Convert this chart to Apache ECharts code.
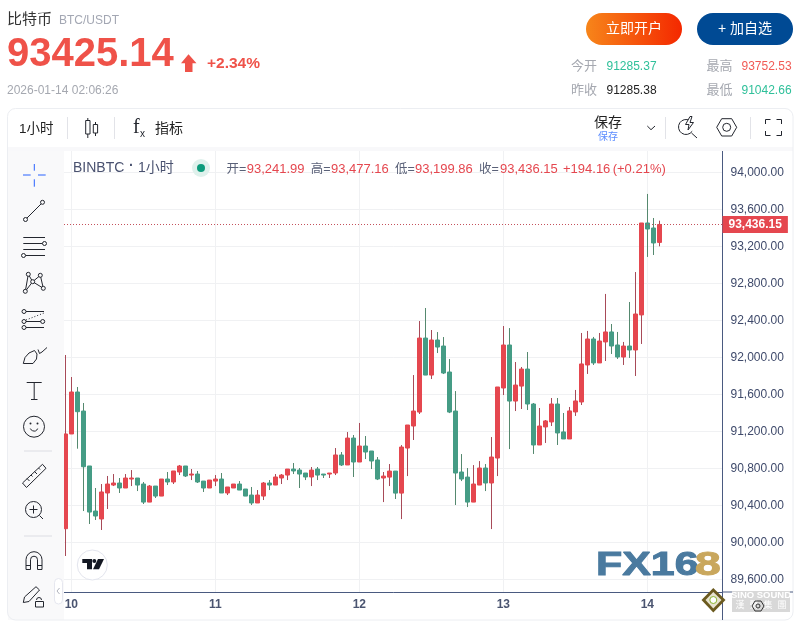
<!DOCTYPE html>
<html>
<head>
<meta charset="utf-8">
<title>比特币 BTC/USDT</title>
<script src="https://cdn.jsdelivr.net/npm/echarts@6/dist/echarts.min.js"></script>
<style>
	html, body { margin: 0; padding: 0; background: #fff; }
	#chart { width: 800px; height: 622px; }
</style>
</head>
<body>
<div id="chart"></div>
<script>
// hourly candles, index 1 is the first bar of the 10th
var opens = [90147, 91171, 91625, 91419, 90825, 90338, 90252, 90533, 90619, 90641,
	90587, 90684, 90695, 90630, 90435, 90608, 90500, 90684, 90652, 90760,
	90825, 90727, 90738, 90662, 90587, 90662, 90684, 90533, 90587, 90630,
	90576, 90511, 90425, 90500, 90641, 90619, 90695, 90727, 90792, 90781,
	90749, 90706, 90792, 90738, 90738, 90749, 90944, 90836, 91127, 90868,
	91041, 90987, 90890, 90695, 90705, 90770, 90532, 91019, 91257, 91408,
	92208, 91808, 92187, 92122, 91841, 91419, 90760, 90705, 90435, 90619,
	90803, 90641, 90911, 91668, 92133, 91527, 91689, 91873, 91495, 91052,
	91247, 91301, 91495, 91193, 91117, 91409, 91517, 91917, 92198, 91939,
	92166, 92274, 92133, 92003, 92122, 92079, 92458, 93452, 93398, 93241.99];
var closes = [91171, 91625, 91412, 90817, 90327, 90284, 90544, 90630, 90641, 90587,
	90695, 90695, 90619, 90435, 90608, 90500, 90684, 90652, 90771, 90825,
	90717, 90738, 90652, 90587, 90673, 90684, 90533, 90598, 90630, 90565,
	90500, 90425, 90511, 90641, 90619, 90706, 90727, 90792, 90771, 90738,
	90706, 90781, 90727, 90727, 90749, 90944, 90836, 91127, 90868, 91041,
	90976, 90879, 90684, 90716, 90770, 90532, 91030, 91268, 91419, 92208,
	91808, 92187, 92111, 91830, 91408, 90749, 90684, 90435, 90630, 90803,
	90641, 90922, 91679, 92133, 91527, 91700, 91873, 91495, 91052, 91257,
	91312, 91495, 91182, 91117, 91420, 91528, 91928, 92198, 91939, 92176,
	92274, 92122, 92003, 92122, 92079, 92468, 93452, 93387, 93236, 93436.15];
var lows = [89852, 91171, 91012, 90338, 90198, 90241, 90133, 90360, 90608, 90533,
	90587, 90608, 90554, 90414, 90435, 90479, 90500, 90619, 90630, 90727,
	90706, 90673, 90641, 90544, 90587, 90608, 90533, 90511, 90587, 90565,
	90500, 90403, 90425, 90457, 90565, 90619, 90630, 90673, 90738, 90587,
	90673, 90608, 90673, 90695, 90695, 90727, 90825, 90836, 90706, 90868,
	90900, 90792, 90673, 90435, 90608, 90468, 90251, 90716, 91106, 91387,
	91808, 91765, 92046, 91819, 91397, 90403, 90662, 90381, 90435, 90619,
	90554, 90143, 90716, 91592, 91008, 91419, 91441, 91430, 90955, 91052,
	91074, 91257, 91052, 91117, 91117, 91366, 91484, 91820, 91917, 91939,
	91960, 92036, 91982, 91917, 91993, 91798, 92144, 93085, 93106, 93199.86];
var highs = [92025, 91787, 91679, 91506, 90825, 90587, 90630, 90717, 90738, 90695,
	90738, 90781, 90695, 90652, 90619, 90608, 90684, 90760, 90771, 90836,
	90825, 90792, 90771, 90662, 90673, 90727, 90749, 90598, 90630, 90662,
	90576, 90598, 90565, 90652, 90673, 90738, 90738, 90792, 90857, 90803,
	90749, 90814, 90814, 90738, 90749, 91019, 90976, 91192, 91160, 91290,
	91149, 90987, 90922, 90760, 90846, 90770, 91051, 91268, 91808, 92392,
	92533, 92295, 92273, 92219, 91981, 91635, 90954, 90803, 90835, 90878,
	90846, 91138, 91679, 92338, 92316, 91949, 91895, 92057, 91506, 91452,
	91322, 91560, 91560, 91398, 91463, 91647, 92263, 92285, 92220, 92263,
	92685, 92360, 92274, 92166, 92598, 92922, 93452, 93766, 93506, 93477.16];

var dayTicks = [1, 25, 49, 73, 97];
var dayLabels = ['10', '11', '12', '13', '14'];
var priceTicks = [89600, 90000, 90400, 90800, 91200, 91600, 92000, 92400, 92800, 93200, 93600, 94000];
var lastClose = 93436.15;

var FONT = '"Liberation Sans","Noto Sans CJK SC",sans-serif';
var INK = '#23262e';
var NAVY = '#4a5a80';

function priceText(v) {
	return v.toLocaleString('en-US', { minimumFractionDigits: 2, maximumFractionDigits: 2 });
}

var wickRows = [];
var bodyRows = [];
for (var i = 0; i < opens.length; i++) {
	wickRows.push([i, opens[i], closes[i], lows[i], highs[i]]);
	bodyRows.push([i, opens[i], closes[i], Math.min(opens[i], closes[i]), Math.max(opens[i], closes[i])]);
}

// drawing helpers for the page furniture around the plot
var parts = [];
function txt(x, y, text, size, color, opt) {
	opt = opt || {};
	parts.push({
		type: 'text', z: 100, silent: true,
		style: {
			x: x, y: y, text: text, fill: color,
			font: (opt.weight || 'normal') + ' ' + size + 'px ' + (opt.family || FONT),
			align: opt.align || 'left', verticalAlign: 'middle',
			stroke: opt.stroke || null, lineWidth: opt.stroke ? 1 : 0,
			shadowBlur: opt.blur || 0, shadowColor: opt.shadow || 'transparent'
		},
		scaleX: opt.scaleX || 1,
		originX: x, originY: y
	});
}
function line(x1, y1, x2, y2, color, width, dash) {
	parts.push({
		type: 'line', z: 100, silent: true,
		shape: { x1: x1, y1: y1, x2: x2, y2: y2 },
		style: { stroke: color || INK, lineWidth: width || 1, lineDash: dash || null }
	});
}
function circle(cx, cy, r, fill, stroke) {
	parts.push({
		type: 'circle', z: 100, silent: true,
		shape: { cx: cx, cy: cy, r: r },
		style: { fill: fill || 'none', stroke: stroke || null, lineWidth: 1 }
	});
}
function box(x, y, w, h, fill, stroke, r) {
	parts.push({
		type: 'rect', z: 99, silent: true,
		shape: { x: x, y: y, width: w, height: h, r: r || 0 },
		style: { fill: fill || 'none', stroke: stroke || null, lineWidth: 1 }
	});
}
function poly(points, fill, stroke, closed) {
	parts.push({
		type: closed === false ? 'polyline' : 'polygon', z: 100, silent: true,
		shape: { points: points },
		style: { fill: fill || 'none', stroke: stroke || null, lineWidth: 1 }
	});
}
function arc(cx, cy, r, a0, a1) {
	parts.push({
		type: 'arc', z: 100, silent: true,
		shape: { cx: cx, cy: cy, r: r, startAngle: a0, endAngle: a1 },
		style: { fill: 'none', stroke: INK, lineWidth: 1 }
	});
}

// card, sidebar and strip
box(8, 151, 56, 469, '#f9f9fa');
box(7.5, 147, 785.5, 4, '#f8f8fa');
box(7.5, 108.5, 785.5, 511.5, 'none', '#eceef2', 8);

// header
txt(7, 20, '比特币', 15, '#333');
txt(59, 20.5, 'BTC/USDT', 12, '#a3a7b3');
txt(7, 55, '93425.14', 40, '#ef5249', { weight: 'bold' });
poly([[188.5, 54.3], [196.5, 63.3], [192.5, 63.3], [192.5, 72], [185, 72], [185, 63.3], [181, 63.3]], '#ef5249');
txt(207, 64, '+2.34%', 15.5, '#ef5249', { weight: 'bold' });
txt(7, 90.5, '2026-01-14 02:06:26', 12, '#a5a8b0');

// buttons
parts.push({
	type: 'rect', z: 99, silent: true,
	shape: { x: 586, y: 13, width: 96, height: 32, r: 16 },
	style: {
		fill: new echarts.graphic.LinearGradient(0, 0, 1, 0, [
			{ offset: 0, color: '#f7851a' },
			{ offset: 1, color: '#f42800' }
		])
	}
});
txt(634, 29, '立即开户', 14, '#fff', { align: 'center' });
box(697, 13, 96, 32, '#004a94', null, 16);
txt(745, 29, '+ 加自选', 14, '#fff', { align: 'center' });

// quote stats
txt(571, 66.5, '今开', 13, '#a5a8b0');
txt(606.5, 66.5, '91285.37', 12, '#2fc09a');
txt(571, 90.5, '昨收', 13, '#a5a8b0');
txt(606.5, 90.5, '91285.38', 12, '#222');
txt(706.5, 66.5, '最高', 13, '#a5a8b0');
txt(741.5, 66.5, '93752.53', 12, '#f15a55');
txt(706.5, 90.5, '最低', 13, '#a5a8b0');
txt(741.5, 90.5, '91042.66', 12, '#2fc09a');

// toolbar
txt(19, 129, '1小时', 13.5, '#222');
line(67.5, 117, 67.5, 139, '#e2e3e8');
line(114.5, 117, 114.5, 139, '#e2e3e8');
line(87.8, 118, 87.8, 138);
box(85.7, 120.5, 4.3, 13.5, '#fff', INK);
parts[parts.length - 1].z = 100;
line(95.5, 122, 95.5, 136);
box(93.3, 124.5, 4.3, 8.5, '#fff', INK);
parts[parts.length - 1].z = 100;
txt(133, 128, 'f', 20, INK, { family: '"Liberation Serif",serif' });
txt(140, 134, 'x', 10, INK);
txt(155, 129, '指标', 14, '#222');
txt(608, 123, '保存', 14, '#222', { align: 'center' });
txt(608, 137, '保存', 10, '#5b8cff', { align: 'center' });
poly([[647.3, 126], [651, 129.7], [655, 126]], null, INK, false);
line(665.5, 117, 665.5, 139, '#e2e3e8');
arc(686, 127, 7.5, 0.6, 5.2);
poly([[690, 116.5], [685.5, 124.5], [689, 124.5], [688, 130], [693.5, 122.5], [690, 122.5], [692, 116.5]], '#fff', INK);
line(691.5, 133, 697, 138);
poly([[716.7, 127.3], [721.7, 118.7], [731.7, 118.7], [736.7, 127.3], [731.7, 136], [721.7, 136]], null, INK);
circle(726.7, 127.3, 4, null, INK);
line(750.5, 117, 750.5, 139, '#e2e3e8');
poly([[765.5, 124], [765.5, 119.5], [770.5, 119.5]], null, INK, false);
poly([[776.5, 119.5], [781.5, 119.5], [781.5, 124]], null, INK, false);
poly([[765.5, 131], [765.5, 135.5], [770.5, 135.5]], null, INK, false);
poly([[776.5, 135.5], [781.5, 135.5], [781.5, 131]], null, INK, false);

// legend row
txt(73, 168.5, 'BINBTC', 14, '#4a5270');
txt(129, 166, '·', 14, '#4a5270', { weight: 'bold' });
txt(138, 168.5, '1小时', 14, '#4a5270');
circle(201, 168, 9, '#dff1ec');
circle(201, 168, 4, '#0d9b7c');
var LEG_RED = '#e5474f';
var LEG_GREY = '#5a6178';
txt(226.5, 169.5, '开=', 12.5, LEG_GREY);
txt(246.7, 169.5, priceText(opens[99]), 13, LEG_RED);
txt(310.7, 169.5, '高=', 12.5, LEG_GREY);
txt(331, 169.5, priceText(highs[99]), 13, LEG_RED);
txt(395, 169.5, '低=', 12.5, LEG_GREY);
txt(415, 169.5, priceText(lows[99]), 13, LEG_RED);
txt(479, 169.5, '收=', 12.5, LEG_GREY);
txt(500, 169.5, priceText(closes[99]), 13, LEG_RED);
txt(563, 169.5, '+194.16', 13, LEG_RED);
txt(612.7, 169.5, '(+0.21%)', 13, LEG_RED);

// drawing tools down the side
var BLUE = '#2962ff';
line(23, 175, 30.7, 175, BLUE);
line(38, 175, 45.7, 175, BLUE);
line(34.3, 164, 34.3, 170.7, BLUE);
line(34.3, 179.3, 34.3, 186.7, BLUE);

line(27, 218, 41, 204);
circle(25.5, 219.5, 2, '#f9f9fa', INK);
circle(42.5, 202.3, 2, '#f9f9fa', INK);

line(23.3, 237.5, 45, 237.5);
line(23.3, 243.5, 42.5, 243.5);
line(23.3, 249.5, 45, 249.5);
line(25.5, 255.5, 45, 255.5);
circle(44.5, 243.5, 2, '#f9f9fa', INK);
circle(23.5, 255.5, 2, '#f9f9fa', INK);

poly([[28.3, 274.3], [32.7, 281.7], [25.3, 291.3]], null, INK, false);
poly([[28.3, 274.3], [25.3, 291.3]], null, INK, false);
poly([[40.3, 275.3], [32.7, 281.7], [43.3, 288.3], [40.3, 275.3]], null, INK, false);
circle(28.3, 274.3, 2, '#f9f9fa', INK);
circle(40.3, 275.3, 2, '#f9f9fa', INK);
circle(32.7, 281.7, 2, '#f9f9fa', INK);
circle(25.3, 291.3, 2, '#f9f9fa', INK);
circle(43.3, 288.3, 2, '#f9f9fa', INK);

line(26, 311.5, 44, 311.5);
line(26, 321.5, 41, 321.5);
line(26, 327.5, 44, 327.5);
line(26, 320, 44, 313, INK, 1, [1, 2]);
circle(24, 311.5, 2, '#f9f9fa', INK);
circle(24, 321.5, 2, '#f9f9fa', INK);
circle(24, 327.5, 2, '#f9f9fa', INK);
circle(42.7, 321.5, 2, '#f9f9fa', INK);

poly([[23.3, 363.5], [25, 357.5], [29, 353], [34.5, 350.5], [37, 354], [36.5, 359], [33, 363.5]], null, INK);
poly([[38, 349.5], [39.5, 353.5], [42, 352], [47, 347.5]], null, INK, false);

line(26.7, 382.5, 41.7, 382.5);
line(34.2, 382.5, 34.2, 399.5);
line(31, 399.5, 37.5, 399.5);

circle(34, 426.7, 10.5, null, INK);
circle(30.5, 423.5, 1, INK);
circle(37.5, 423.5, 1, INK);
arc(34, 427, 4, 0.4, 2.75);

line(24, 451, 52, 451, '#dcdde3');

poly([[22.5, 483], [42.5, 464.3], [46, 468.3], [26.5, 487.5]], null, INK);
line(27, 478.5, 29.5, 481);
line(31, 475, 32.5, 476.5);
line(34.5, 471.5, 37, 474);
line(38.5, 468, 40, 469.5);

circle(33.5, 509.5, 8, null, INK);
line(29.5, 509.5, 37.5, 509.5);
line(33.5, 505.5, 33.5, 513.5);
line(39.5, 515.5, 43, 519);

line(24, 536, 52, 536, '#dcdde3');

arc(34, 559.7, 8, Math.PI, 2 * Math.PI);
arc(34, 559.7, 3.5, Math.PI, 2 * Math.PI);
line(26, 559.7, 26, 569.5);
line(42, 559.7, 42, 569.5);
line(30.5, 559.7, 30.5, 569.5);
line(37.5, 559.7, 37.5, 569.5);
line(26, 565.5, 30.5, 565.5);
line(37.5, 565.5, 42, 565.5);
line(26, 569.5, 30.5, 569.5);
line(37.5, 569.5, 42, 569.5);

poly([[23.3, 602.5], [24.5, 597], [36, 586.7], [39.5, 590], [29, 601.5]], null, INK);
box(35.5, 601.5, 8, 5.5, '#f9f9fa', INK);
parts[parts.length - 1].z = 100;
arc(39, 600, 2.5, Math.PI, 2 * Math.PI);

box(54.5, 578.5, 8, 25.5, '#fff', '#e6e7ef', 4);
parts[parts.length - 1].z = 100;
poly([[59.5, 588], [57, 591], [59.5, 594]], null, '#b0b3bd', false);

// plot frame that runs past the grid
line(722.5, 592, 722.5, 620, NAVY);
line(722.5, 592, 793, 592, NAVY);

// TradingView badge
circle(92.3, 565, 15, '#fff', '#e3e5ee');
poly([[82.3, 559], [92, 559], [92, 569.3], [87, 569.3], [87, 563], [82.3, 563]], '#131722');
circle(94.3, 561, 2, '#131722');
poly([[98, 559], [104, 559], [99, 569.3], [93, 569.3]], '#131722');

// watermark
txt(596, 565.5, 'FX16', 33, '#4a7a9f', { weight: 'bold', scaleX: 1.3, blur: 2, shadow: '#9fa5ab', stroke: '#4a7a9f' });
txt(695, 565.5, '8', 33, '#c9a75d', { weight: 'bold', scaleX: 1.4, blur: 2, shadow: '#9fa5ab', stroke: '#c9a75d' });

// Sino Sound mark
poly([[713.3, 588], [725.5, 600], [713.3, 612.5], [701.5, 600]], '#6b5a1f');
poly([[713.3, 592], [721.5, 600], [713.3, 608.5], [705.5, 600]], '#e8e3cf');
circle(713.3, 600, 3.5, '#fff', '#8ab52e');
box(732, 591, 58, 21, '#d8d8d8');
parts[parts.length - 1].z = 100;
txt(761, 595.5, 'SINO SOUND', 9.5, '#fff', { weight: 'bold', align: 'center' });
txt(761, 606, '漢  聲  集  團', 9, '#fff', { align: 'center' });
poly([[752, 606], [755, 601], [761, 601], [764, 606], [761, 611], [755, 611]], null, '#333');
circle(758, 606, 2, null, '#333');

var chart = echarts.init(document.getElementById('chart'), null, { renderer: 'canvas' });
var option = {
	animation: false,
	backgroundColor: '#fff',
	grid: { left: 64, top: 151, width: 658.5, height: 441 },
	xAxis: {
		type: 'value',
		min: -0.2167,
		max: 109.533,
		axisLine: { onZero: false, lineStyle: { color: NAVY, width: 1 } },
		axisTick: { show: false, customValues: dayTicks },
		axisLabel: {
			customValues: dayTicks,
			margin: 7,
			color: '#4a5470',
			fontSize: 12,
			fontWeight: 'bold',
			fontFamily: FONT,
			formatter: function(value) {
				return dayLabels[dayTicks.indexOf(value)];
			}
		},
		splitLine: { show: true, lineStyle: { color: '#f0f1f3', width: 1 } }
	},
	yAxis: {
		type: 'value',
		position: 'right',
		min: 89462.7,
		max: 94230.3,
		axisLine: { show: true, onZero: false, lineStyle: { color: NAVY, width: 1 } },
		axisTick: { show: false, customValues: priceTicks },
		axisLabel: {
			customValues: priceTicks,
			margin: 8,
			color: '#3f4a6b',
			fontSize: 12,
			fontFamily: FONT,
			formatter: function(value) {
				return priceText(value);
			}
		},
		splitLine: { show: true, lineStyle: { color: '#f0f1f3', width: 1 } }
	},
	series: [{
		name: 'wick',
		type: 'candlestick',
		barWidth: 1,
		data: wickRows,
		encode: { x: 0, y: [1, 2, 3, 4] },
		itemStyle: {
			color: '#a84a58',
			color0: '#55896f',
			borderColor: '#a84a58',
			borderColor0: '#55896f',
			borderWidth: 1
		},
		markLine: {
			silent: true,
			symbol: 'none',
			animation: false,
			data: [{ yAxis: lastClose }],
			lineStyle: { color: '#c4525c', type: [1, 2], width: 1 },
			label: {
				position: 'end',
				distance: 0,
				formatter: function() {
					return priceText(lastClose);
				},
				color: '#fff',
				fontSize: 12,
				fontWeight: 'bold',
				fontFamily: FONT,
				backgroundColor: '#e5474f',
				padding: [3, 6, 2, 6]
			}
		}
	}, {
		name: 'body',
		type: 'candlestick',
		barWidth: 4,
		data: bodyRows,
		encode: { x: 0, y: [1, 2, 3, 4] },
		itemStyle: {
			color: '#e5474f',
			color0: '#459c85',
			borderColor: '#e5474f',
			borderColor0: '#459c85',
			borderWidth: 1
		}
	}],
	graphic: { elements: parts }
};
chart.setOption(option);
</script>
</body>
</html>
